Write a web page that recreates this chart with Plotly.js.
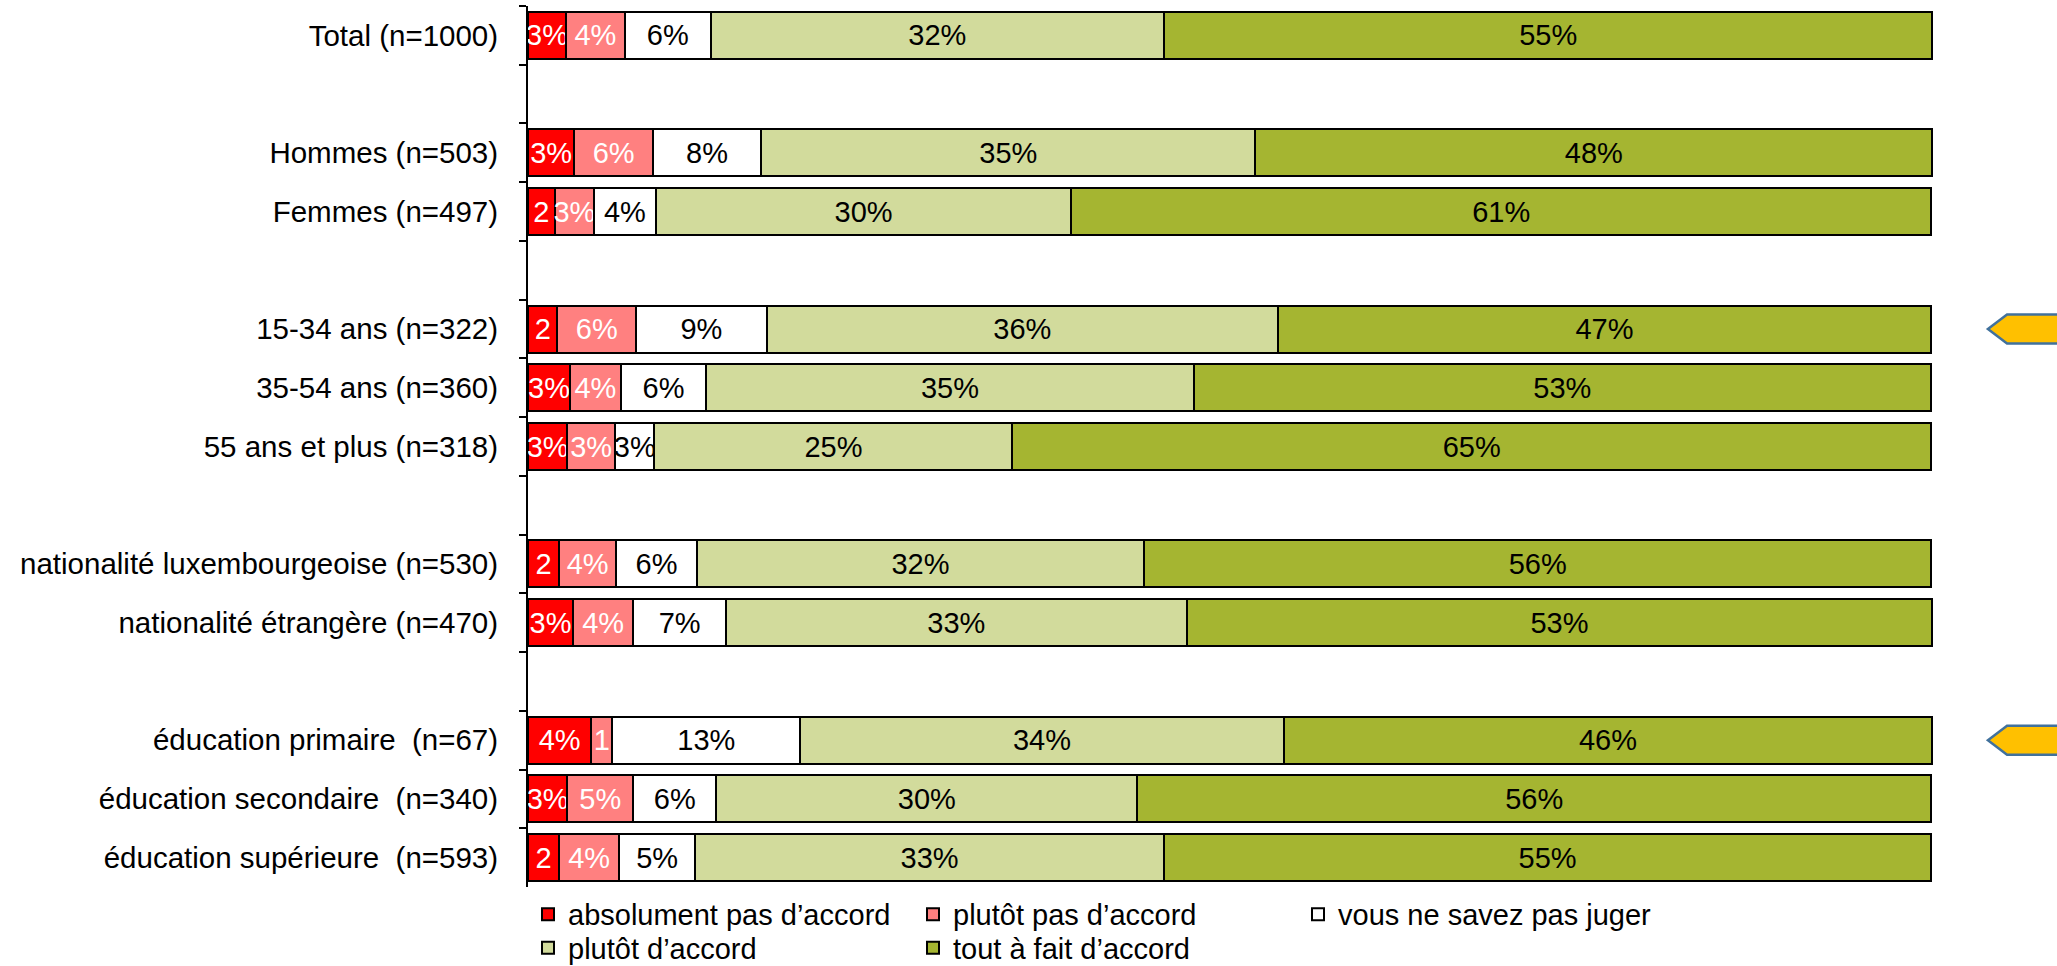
<!DOCTYPE html>
<html>
<head>
<meta charset="utf-8">
<script src="https://cdn.plot.ly/plotly-3.0.1.min.js"></script>
<style>
html,body{margin:0;padding:0;background:#fff;}
#chart{width:2057px;height:966px;}
</style>
</head>
<body>
<div id="chart"></div>
<script>
// Categories (blank entries are the empty spacer rows)
var categories = [
  "Total (n=1000)",
  "\u00a0",
  "Hommes (n=503)",
  "Femmes (n=497)",
  "\u00a0\u00a0",
  "15-34 ans (n=322)",
  "35-54 ans (n=360)",
  "55 ans et plus (n=318)",
  "\u00a0\u00a0\u00a0",
  "nationalité luxembourgeoise (n=530)",
  "nationalité étrangère (n=470)",
  "\u00a0\u00a0\u00a0\u00a0",
  "éducation primaire  (n=67)",
  "éducation secondaire  (n=340)",
  "éducation supérieure  (n=593)"
];

var seriesNames = [
  "absolument pas d\u2019accord",
  "plutôt pas d\u2019accord",
  "vous ne savez pas juger",
  "plutôt d\u2019accord",
  "tout à fait d\u2019accord"
];

// Values (percent)
var absolumentPas = [2.7, null, 3.3, 1.9, null, 2.1, 3.0, 2.8, null, 2.2, 3.2, null, 4.5, 2.8, 2.2];
var plutotPas     = [4.2, null, 5.6, 2.8, null, 5.6, 3.6, 3.4, null, 4.1, 4.3, null, 1.5, 4.7, 4.3];
var neSaitPas     = [6.1, null, 7.7, 4.4, null, 9.3, 6.1, 2.8, null, 5.7, 6.6, null, 13.4, 5.9, 5.4];
var plutotAccord  = [32.3, null, 35.2, 29.6, null, 36.4, 34.7, 25.5, null, 31.9, 32.8, null, 34.4, 30.0, 33.4];
var toutAFait     = [54.7, null, 48.2, 61.2, null, 46.5, 52.5, 65.4, null, 56.0, 53.1, null, 46.2, 56.5, 54.6];

// Labels as printed in the bars
var labelsAbsolumentPas = ["3%", "", "3%", "2", "", "2", "3%", "3%", "", "2", "3%", "", "4%", "3%", "2"];
var labelsPlutotPas     = ["4%", "", "6%", "3%", "", "6%", "4%", "3%", "", "4%", "4%", "", "1", "5%", "4%"];
var labelsNeSaitPas     = ["6%", "", "8%", "4%", "", "9%", "6%", "3%", "", "6%", "7%", "", "13%", "6%", "5%"];
var labelsPlutotAccord  = ["32%", "", "35%", "30%", "", "36%", "35%", "25%", "", "32%", "33%", "", "34%", "30%", "33%"];
var labelsToutAFait     = ["55%", "", "48%", "61%", "", "47%", "53%", "65%", "", "56%", "53%", "", "46%", "56%", "55%"];

// Rows highlighted by an arrow on the right
var highlightedRows = ["15-34 ans (n=322)", "éducation primaire  (n=67)"];

var colors = ["#FF0000", "#FF8080", "#FFFFFF", "#D2DB9C", "#A5B531"];
var textColors = ["#FFFFFF", "#FFFFFF", "#000000", "#000000", "#000000"];
// legend row of each series (first row: 3 items, second row: 2 items)
var legendRow = ["legend", "legend", "legend", "legend2", "legend2"];

var FONT = "Liberation Sans, Arial, sans-serif";

var allValues = [absolumentPas, plutotPas, neSaitPas, plutotAccord, toutAFait];
var allLabels = [labelsAbsolumentPas, labelsPlutotPas, labelsNeSaitPas, labelsPlutotAccord, labelsToutAFait];

var traces = seriesNames.map(function(name, k){
  return {
    type: "bar",
    orientation: "h",
    name: name,
    legend: legendRow[k],
    y: categories,
    x: allValues[k],
    text: allLabels[k],
    texttemplate: "%{text}",
    textposition: "inside",
    insidetextanchor: "middle",
    textangle: 0,
    constraintext: "none",
    textfont: {family: FONT, size: 29, color: textColors[k]},
    marker: {color: colors[k], line: {color: "#000000", width: 2}},
    hoverinfo: "skip"
  };
});

var nCat = categories.length;
var shapes = highlightedRows.map(function(row){
  var i = categories.indexOf(row);
  var yc = (nCat - 0.5 - i) / nCat;
  var h = 0.0165;
  var tip = 1.0391, sh = 1.0527, end = 1.12;
  return {
    type: "path",
    xref: "paper", yref: "paper",
    path: "M" + tip + "," + yc + " L" + sh + "," + (yc + h) + " L" + end + "," + (yc + h) +
          " L" + end + "," + (yc - h) + " L" + sh + "," + (yc - h) + " Z",
    fillcolor: "#FFC000",
    line: {color: "#41719C", width: 2.5},
    layer: "above"
  };
});

function legendStyle(yPos){
  return {
    orientation: "h",
    x: 0,
    xanchor: "left",
    y: yPos,
    yanchor: "middle",
    entrywidth: 340,
    traceorder: "normal",
    font: {family: FONT, size: 29, color: "#000000"},
    bgcolor: "rgba(0,0,0,0)",
    itemclick: false,
    itemdoubleclick: false
  };
}

var layout = {
  width: 2057,
  height: 966,
  margin: {l: 528, r: 124, t: 6, b: 79, pad: 0, autoexpand: false},
  paper_bgcolor: "#FFFFFF",
  plot_bgcolor: "#FFFFFF",
  barmode: "stack",
  bargap: 0.2,
  showlegend: true,
  font: {family: FONT, size: 29, color: "#000000"},
  xaxis: {
    range: [0, 100.05],
    visible: false,
    showgrid: false,
    zeroline: false,
    fixedrange: true
  },
  yaxis: {
    type: "category",
    autorange: "reversed",
    categoryorder: "array",
    categoryarray: categories,
    showline: true,
    linecolor: "#000000",
    linewidth: 2,
    ticks: "outside",
    tickson: "boundaries",
    ticklen: 7,
    tickwidth: 2,
    tickcolor: "#000000",
    ticklabelstandoff: 22,
    tickfont: {family: FONT, size: 29.5, color: "#000000"},
    showgrid: false,
    zeroline: false,
    fixedrange: true
  },
  legend: legendStyle(-0.031),
  legend2: legendStyle(-0.069),
  shapes: shapes
};

Plotly.newPlot("chart", traces, layout, {displayModeBar: false, staticPlot: true});
</script>
</body>
</html>
